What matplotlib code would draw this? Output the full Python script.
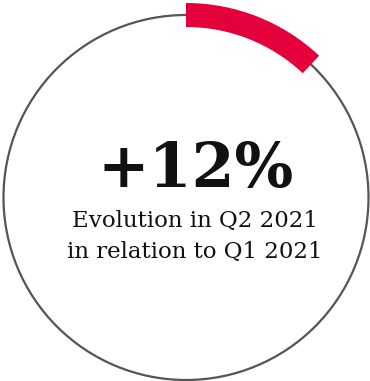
import matplotlib
matplotlib.use("Agg")
import matplotlib.pyplot as plt
from matplotlib.patches import Circle, Wedge

# Valeur affichée et libellés
evolution_pct = [12]
headline = ["+12%"]
caption_lines = ["Evolution in Q2 2021", "in relation to Q1 2021"]

W, H = 370, 381
fig = plt.figure(figsize=(W / 100, H / 100), dpi=100)
ax = fig.add_axes([0, 0, 1, 1])
ax.set_xlim(0, W)
ax.set_ylim(0, H)
ax.set_aspect("equal")
ax.axis("off")

cx, cy = 186, H - 197.5
r = 182.5

# cercle gris de fond
ax.add_patch(Circle((cx, cy), r, fill=False, edgecolor="#555555", linewidth=1.6))

# arc rouge proportionnel à la valeur (sens horaire depuis midi)
span = evolution_pct[0] / 100 * 360
ax.add_patch(Wedge((cx, cy), r + 12, 90 - span, 90, width=24,
                   facecolor="#e4003b", edgecolor="none"))

ax.text(196, H - 187, headline[0], ha="center", va="baseline",
        fontsize=44.5, fontweight="bold", family="DejaVu Serif", color="#111111")
ax.text(195, H - 227, caption_lines[0], ha="center", va="baseline",
        fontsize=16.5, family="DejaVu Serif", color="#111111")
ax.text(195, H - 258, caption_lines[1], ha="center", va="baseline",
        fontsize=16.5, family="DejaVu Serif", color="#111111")

fig.savefig("out.png", dpi=100)
